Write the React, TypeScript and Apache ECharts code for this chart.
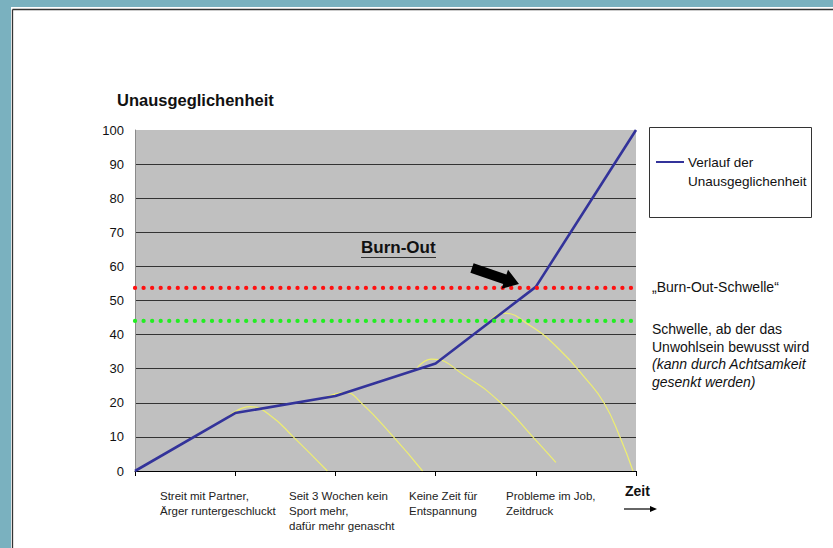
import React, { useEffect, useRef } from "react";
import * as echarts from "echarts";

const xTicks = [0, 1, 2, 3, 4, 5];
const verlauf: number[][] = [[0, 0], [1, 17], [2, 22], [3, 31.5], [4, 54], [5, 100]];
const yellow1: number[][] = [[0.93, 16], [1.15, 18.9], [1.35, 16.3], [1.58, 10], [1.92, 0]];
const yellow2: number[][] = [[1.9, 21.6], [2.1, 23], [2.25, 20.2], [2.58, 10], [2.87, 0]];
const yellow3: number[][] = [[2.82, 30.4], [2.96, 32.8], [3.3, 27.8], [3.65, 20], [3.97, 10], [4.2, 2.5]];
const yellow4: number[][] = [[3.54, 43.7], [3.67, 46.3], [3.95, 42.5], [4.24, 35.5], [4.5, 27], [4.68, 20], [4.84, 10], [4.97, 0]];
const burnOutLevel = 53.7;
const awareLevel = 44;
const xLabels = [
  ["Streit mit Partner,", "Ärger runtergeschluckt"],
  ["Seit 3 Wochen kein", "Sport mehr,", "dafür mehr genascht"],
  ["Keine Zeit für", "Entspannung"],
  ["Probleme im Job,", "Zeitdruck"],
];
const xLabelLeft = [160, 289, 409, 506];

const FONT = "'Liberation Sans', Arial, sans-serif";

function arrowPoints(tx: number, ty: number, px: number, py: number, sw: number, hw: number, hl: number) {
  const L = Math.hypot(px - tx, py - ty);
  const dx = (px - tx) / L, dy = (py - ty) / L;
  const nx = -dy, ny = dx;
  const bx = px - hl * dx, by = py - hl * dy;
  return [
    [tx + sw * nx, ty + sw * ny],
    [bx + sw * nx, by + sw * ny],
    [bx + hw * nx, by + hw * ny],
    [px, py],
    [bx - hw * nx, by - hw * ny],
    [bx - sw * nx, by - sw * ny],
    [tx - sw * nx, ty - sw * ny],
  ];
}

export default function App() {
  const ref = useRef<HTMLDivElement>(null);
  useEffect(() => {
    const chart = echarts.init(ref.current!, null, { renderer: "svg" });
    const yellowStyle = { color: "#EEEE70", width: 1.2 };
    const yellowSeries = [yellow1, yellow2, yellow3, yellow4].map((d) => ({
      type: "line",
      data: d,
      smooth: 0.5,
      showSymbol: false,
      lineStyle: yellowStyle,
      z: 2,
      silent: true,
    }));
    const dotted = (level: number, color: string) => ({
      type: "line",
      data: [[0, level], [5.01, level]],
      showSymbol: false,
      lineStyle: { color, width: 4.2, type: [0.1, 8.45], cap: "round" },
      z: 4,
      silent: true,
    });
    const texts: any[] = [];
    xLabels.forEach((lines, i) => {
      lines.forEach((t, j) => {
        texts.push({
          type: "text",
          x: xLabelLeft[i],
          y: 496 + j * 15,
          style: { text: t, font: `11.5px ${FONT}`, fill: "#222", textVerticalAlign: "middle" },
        });
      });
    });
    const rightTexts = [
      { t: "„Burn-Out-Schwelle“", y: 287, italic: false },
      { t: "Schwelle, ab der das", y: 329, italic: false },
      { t: "Unwohlsein bewusst wird", y: 346.5, italic: false },
      { t: "(kann durch Achtsamkeit", y: 364, italic: true },
      { t: "gesenkt werden)", y: 381.5, italic: true },
    ];
    rightTexts.forEach((r) =>
      texts.push({
        type: "text",
        x: 652,
        y: r.y,
        style: {
          text: r.t,
          font: `${r.italic ? "italic " : ""}14px ${FONT}`,
          fill: "#111",
          textVerticalAlign: "middle",
        },
      })
    );
    chart.setOption({
      animation: false,
      backgroundColor: "#ffffff",
      grid: {
        left: 135,
        top: 130,
        width: 501,
        height: 341,
        show: true,
        backgroundColor: "#C0C0C0",
        borderWidth: 0,
      },
      xAxis: {
        type: "value",
        min: xTicks[0],
        max: xTicks[xTicks.length - 1],
        interval: 1,
        axisLine: { show: true, lineStyle: { color: "#000", width: 1 } },
        axisTick: { show: true, length: 5, lineStyle: { color: "#000" } },
        axisLabel: { show: false },
        splitLine: { show: false },
      },
      yAxis: {
        type: "value",
        min: 0,
        max: 100,
        interval: 10,
        axisLine: { show: true, lineStyle: { color: "#8a8a8a", width: 1 } },
        axisTick: { show: false },
        axisLabel: { color: "#111", fontSize: 13, fontFamily: FONT, margin: 11 },
        splitLine: {
          show: true,
          showMinLine: false,
          showMaxLine: false,
          lineStyle: { color: "#333", width: 1 },
        },
      },
      series: [
        ...yellowSeries,
        {
          type: "line",
          data: verlauf,
          showSymbol: false,
          lineStyle: { color: "#33339A", width: 2.6 },
          z: 3,
          silent: true,
        },
        dotted(burnOutLevel, "#FF1010"),
        dotted(awareLevel, "#22EE22"),
      ],
      graphic: [
        { type: "rect", shape: { x: 0, y: 0, width: 833, height: 7 }, style: { fill: "#7AB1BF" }, z: 100 },
        { type: "rect", shape: { x: 0, y: 0, width: 11, height: 548 }, style: { fill: "#7AB1BF" }, z: 100 },
        { type: "line", shape: { x1: 12.5, y1: 9.5, x2: 833, y2: 9.5 }, style: { stroke: "#333", lineWidth: 1.3 }, z: 100 },
        { type: "line", shape: { x1: 12.5, y1: 9.5, x2: 12.5, y2: 548 }, style: { stroke: "#333", lineWidth: 1.3 }, z: 100 },
        {
          type: "text",
          x: 117,
          y: 100,
          style: { text: "Unausgeglichenheit", font: `bold 16.5px ${FONT}`, fill: "#111", textVerticalAlign: "middle" },
        },
        {
          type: "text",
          x: 361,
          y: 247,
          style: { text: "Burn-Out", font: `bold 17px ${FONT}`, fill: "#111", textVerticalAlign: "middle" },
          z: 10,
        },
        { type: "line", shape: { x1: 361, y1: 257.5, x2: 436, y2: 257.5 }, style: { stroke: "#333", lineWidth: 1 }, z: 10 },
        {
          type: "polygon",
          shape: { points: arrowPoints(472, 268, 519, 284, 5, 10, 15) },
          style: { fill: "#000" },
          z: 10,
        },
        { type: "rect", shape: { x: 649.5, y: 127.5, width: 162, height: 90 }, style: { fill: "#fff", stroke: "#333", lineWidth: 1 } },
        { type: "line", shape: { x1: 656, y1: 162, x2: 684, y2: 162 }, style: { stroke: "#33339A", lineWidth: 2 } },
        {
          type: "text",
          x: 688,
          y: 162,
          style: { text: "Verlauf der", font: `13.5px ${FONT}`, fill: "#111", textVerticalAlign: "middle" },
        },
        {
          type: "text",
          x: 688,
          y: 181,
          style: { text: "Unausgeglichenheit", font: `13.5px ${FONT}`, fill: "#111", textVerticalAlign: "middle" },
        },
        {
          type: "text",
          x: 625,
          y: 491,
          style: { text: "Zeit", font: `bold 14px ${FONT}`, fill: "#111", textVerticalAlign: "middle" },
        },
        { type: "line", shape: { x1: 624, y1: 509, x2: 651, y2: 509 }, style: { stroke: "#000", lineWidth: 1.2 } },
        { type: "polygon", shape: { points: [[650, 506], [657, 509], [650, 512]] }, style: { fill: "#000" } },
        ...texts,
      ],
    });
    return () => chart.dispose();
  }, []);
  return (
    <div
      ref={ref}
      style={{ position: "fixed", left: 0, top: 0, width: 833, height: 548, background: "#fff" }}
    />
  );
}
